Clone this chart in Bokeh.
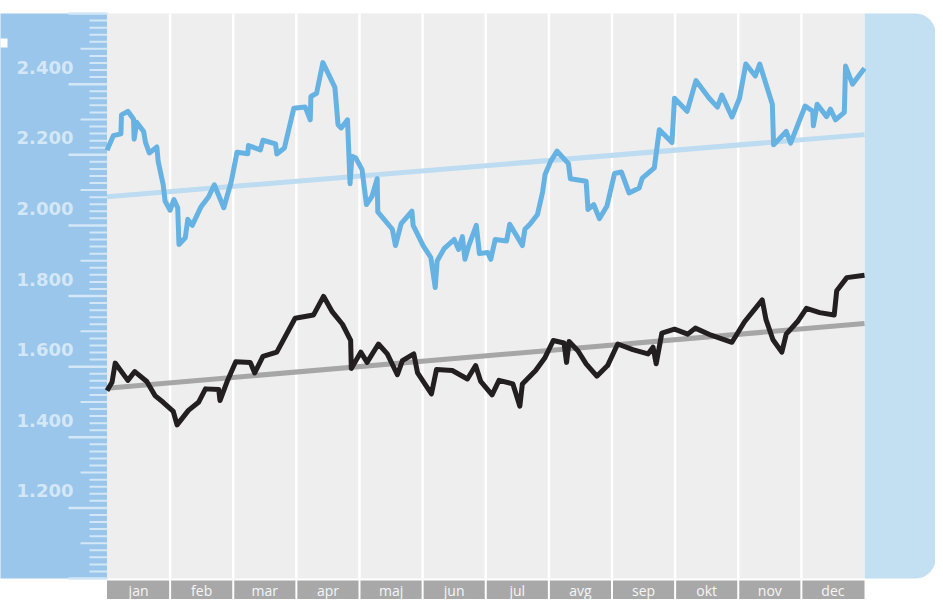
import numpy as np
from bokeh.plotting import figure
from bokeh.models import Range1d
from bokeh.core.properties import value
from bokeh.embed import file_html
from bokeh.resources import INLINE

# ---------------- data ----------------
months = ["jan", "feb", "mar", "apr", "maj", "jun", "jul", "avg", "sep", "okt", "nov", "dec"]
tick_values = [1200, 1400, 1600, 1800, 2000, 2200, 2400]
tick_labels = ["1.200", "1.400", "1.600", "1.800", "2.000", "2.200", "2.400"]

# x is position in months (0 = start of jan, 12 = end of dec)
blue_x = [0.00, 0.10, 0.22, 0.23, 0.33, 0.42, 0.43, 0.47, 0.58, 0.61, 0.67, 0.79, 0.81, 0.89, 0.92,
          1.00, 1.06, 1.12, 1.14, 1.24, 1.28, 1.35, 1.49, 1.61, 1.70, 1.85, 1.97, 2.06, 2.23, 2.24,
          2.43, 2.47, 2.67, 2.69, 2.81, 2.96, 3.14, 3.22, 3.23, 3.32, 3.42, 3.61, 3.66, 3.71, 3.81,
          3.85, 3.88, 3.94, 4.04, 4.11, 4.20, 4.28, 4.29, 4.52, 4.57, 4.66, 4.83, 4.85, 5.01, 5.13,
          5.20, 5.23, 5.34, 5.50, 5.57, 5.63, 5.67, 5.73, 5.85, 5.90, 6.03, 6.08, 6.15, 6.33, 6.38,
          6.58, 6.62, 6.70, 6.82, 6.90, 6.94, 7.03, 7.13, 7.31, 7.34, 7.59, 7.62, 7.71, 7.80, 7.92,
          8.04, 8.15, 8.27, 8.43, 8.48, 8.67, 8.75, 8.95, 8.99, 9.19, 9.33, 9.54, 9.67, 9.74, 9.90,
          10.02, 10.12, 10.27, 10.34, 10.54, 10.56, 10.76, 10.83, 11.06, 11.18, 11.19, 11.25, 11.40,
          11.46, 11.54, 11.68, 11.70, 11.81, 12.00]
blue_y = [2213, 2254, 2259, 2313, 2323, 2301, 2244, 2292, 2266, 2235, 2205, 2222, 2182, 2115, 2069,
          2043, 2073, 2050, 1946, 1965, 2017, 2000, 2053, 2081, 2115, 2050, 2125, 2207, 2203, 2226,
          2214, 2241, 2231, 2202, 2219, 2332, 2335, 2299, 2365, 2374, 2461, 2391, 2285, 2276, 2299,
          2118, 2196, 2191, 2158, 2059, 2083, 2132, 2038, 1989, 1943, 2005, 2040, 2000, 1942, 1909,
          1824, 1899, 1934, 1960, 1932, 1968, 1904, 1942, 2000, 1920, 1923, 1904, 1960, 1956, 2003,
          1943, 1989, 2003, 2031, 2094, 2144, 2182, 2210, 2175, 2132, 2125, 2045, 2059, 2019, 2055,
          2147, 2151, 2092, 2106, 2134, 2163, 2271, 2235, 2360, 2323, 2410, 2360, 2335, 2369, 2307,
          2360, 2457, 2423, 2457, 2343, 2228, 2266, 2233, 2338, 2323, 2282, 2343, 2308,
          2329, 2299, 2320, 2451, 2400, 2445]

black_x = [0.00, 0.08, 0.13, 0.33, 0.44, 0.63, 0.76, 0.89, 1.05, 1.11, 1.29, 1.45, 1.56, 1.77, 1.79,
           1.91, 2.04, 2.27, 2.34, 2.47, 2.69, 2.98, 3.27, 3.43, 3.57, 3.73, 3.86, 3.87, 4.02, 4.12,
           4.30, 4.44, 4.60, 4.68, 4.86, 4.92, 5.14, 5.22, 5.47, 5.71, 5.84, 5.92, 6.10, 6.21, 6.43,
           6.54, 6.58, 6.79, 6.94, 7.07, 7.24, 7.28, 7.32, 7.46, 7.59, 7.76, 7.93, 8.09, 8.33, 8.57,
           8.65, 8.70, 8.79, 8.99, 9.20, 9.32, 9.57, 9.90, 10.10, 10.38, 10.44, 10.55, 10.69, 10.76,
           10.95, 11.08, 11.29, 11.52, 11.56, 11.72, 12.00]
black_y = [1532, 1556, 1610, 1561, 1586, 1558, 1518, 1499, 1473, 1435, 1476, 1499, 1537, 1535, 1504,
           1561, 1614, 1612, 1582, 1629, 1641, 1737, 1746, 1799, 1755, 1720, 1674, 1595, 1641, 1612,
           1664, 1636, 1577, 1617, 1636, 1582, 1523, 1592, 1589, 1565, 1603, 1558, 1520, 1561, 1551,
           1488, 1551, 1589, 1626, 1674, 1667, 1612, 1671, 1645, 1608, 1573, 1603, 1664, 1648, 1636,
           1655, 1608, 1695, 1706, 1692, 1709, 1689, 1669, 1727, 1789, 1733, 1676, 1641, 1692,
           1730, 1765, 1753, 1746, 1815, 1852, 1859]

trend_x = [0, 12]
blue_trend = [2081, 2257]
black_trend = [1539, 1722]

# ---------------- layout helpers (pixel -> data) ----------------
W, H = 935, 599
X0, X1 = 106.5, 864.0      # plot area left / right (px)
Y_TOP, Y_BOT = 13.0, 578.0 # plot area top / bottom (px)
V_MIN, V_MAX = 1000, 2600


def gx(px):
    return (px - X0) / (X1 - X0) * 12.0


def gy(py):
    return V_MIN + (Y_BOT - py) / (Y_BOT - Y_TOP) * (V_MAX - V_MIN)


p = figure(width=W, height=H, output_backend="svg", toolbar_location=None,
           x_range=Range1d(gx(0), gx(W)), y_range=Range1d(gy(H), gy(0)),
           x_axis_location=None, y_axis_location=None, min_border=0)
p.grid.visible = False
p.outline_line_color = None
p.background_fill_color = "white"
p.border_fill_color = "white"

# left blue panel
p.quad(left=[gx(-2)], right=[gx(X0 + 0.5)], top=[gy(Y_TOP)], bottom=[gy(Y_BOT)],
       fill_color="#99c6ea", line_color=None)
# small white marker at top-left
p.quad(left=[gx(-2)], right=[gx(7)], top=[gy(38)], bottom=[gy(47)],
       fill_color="white", line_color=None)

# right light-blue panel with rounded right corners
r = 20.0
t1 = np.linspace(np.pi / 2, 0, 12)
t2 = np.linspace(0, -np.pi / 2, 12)
px_pts = [X1] + list(W - r + r * np.cos(t1)) + list(W - r + r * np.cos(t2)) + [X1]
py_pts = [Y_TOP] + list(Y_TOP + r - r * np.sin(t1)) + list(Y_BOT - r - r * np.sin(t2)) + [Y_BOT]
p.patch([gx(v) for v in px_pts], [gy(v) for v in py_pts], fill_color="#c3dff2", line_color=None)

# plot background
p.quad(left=[0], right=[12], top=[gy(Y_TOP)], bottom=[gy(Y_BOT)],
       fill_color="#eeeeee", line_color=None)

# month separators
bounds = list(range(1, 12))
p.segment(x0=bounds, x1=bounds, y0=[gy(Y_TOP)] * 11, y1=[gy(Y_BOT)] * 11,
          line_color="white", line_width=2.5)

# month label bar
gap = 1.0 / ((X1 - X0) / 12.0)
lefts = [i + (gap if i > 0 else 0) for i in range(12)]
rights = [i + 1 - (gap if i < 11 else 0) for i in range(12)]
p.quad(left=lefts, right=rights, top=[gy(Y_BOT + 2)] * 12, bottom=[gy(H + 10)] * 12,
       fill_color="#a8a8a8", line_color=None)
p.text(x=[i + 0.5 for i in range(12)], y=[gy(589.5)] * 12, text=months,
       text_align="center", text_baseline="middle", text_color="#f6f6f6",
       text_font=value("Open Sans"), text_font_size="14px")

# y ticks
long_t = list(range(1000, 2601, 200))
med_t = list(range(1100, 2501, 200))
short_t = [v for v in range(1000, 2601, 20) if v % 100 != 0]
tick_col = "#d3e7f7"
p.segment(x0=[gx(68)] * len(long_t), x1=[gx(107)] * len(long_t), y0=long_t, y1=long_t,
          line_color=tick_col, line_width=2.5)
p.segment(x0=[gx(80)] * len(med_t), x1=[gx(107)] * len(med_t), y0=med_t, y1=med_t,
          line_color=tick_col, line_width=2)
p.segment(x0=[gx(89)] * len(short_t), x1=[gx(107)] * len(short_t), y0=short_t, y1=short_t,
          line_color=tick_col, line_width=2)
p.text(x=[gx(73)] * len(tick_values), y=tick_values, text=tick_labels, y_offset=-17,
       text_align="right", text_baseline="middle", text_color=tick_col,
       text_font=value("DejaVu Sans"), text_font_style="bold", text_font_size="18px")

# trend lines
p.line(trend_x, blue_trend, line_color="#bddcf1", line_width=5)
p.line(trend_x, black_trend, line_color="#a6a6a6", line_width=5)

# data lines
p.line(blue_x, blue_y, line_color="#66b2e3", line_width=5, line_join="round")
p.line(black_x, black_y, line_color="#231f20", line_width=5, line_join="round")

open("out.html", "w").write(file_html(p, INLINE))
